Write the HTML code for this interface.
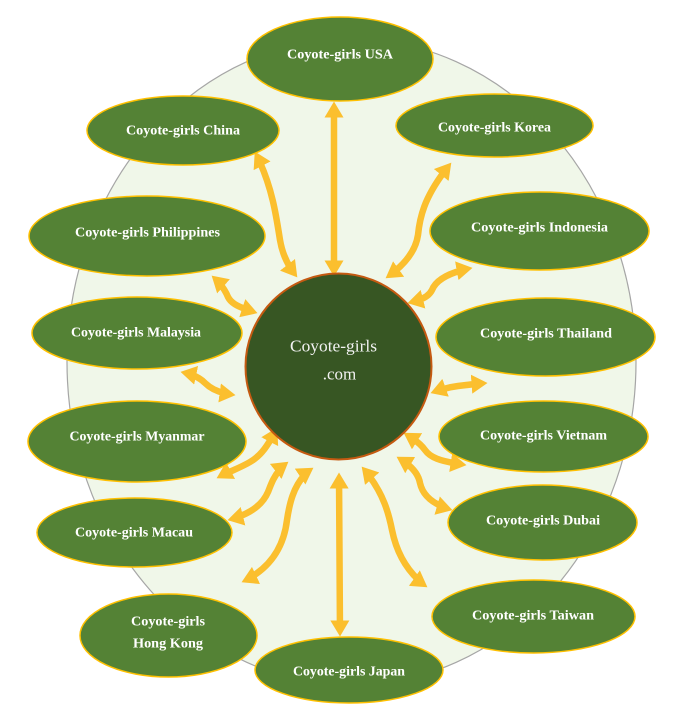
<!DOCTYPE html>
<html>
<head>
<meta charset="utf-8">
<style>
  html, body { margin:0; padding:0; background:#ffffff; }
  body { width:684px; height:726px; overflow:hidden; }
  svg { display:block; }
  .node { fill:#548235; stroke:#ffc000; stroke-width:1.5; }
  .lbl { font-family:"Liberation Serif", serif; font-weight:bold; font-size:14px; fill:#ffffff; text-anchor:middle; dominant-baseline:central; }
  .arr { fill:none; stroke:#fbbf2e; stroke-width:6.5; marker-start:url(#h); marker-end:url(#h); }
</style>
</head>
<body>
<svg width="684" height="726" viewBox="0 0 684 726" xmlns="http://www.w3.org/2000/svg">
  <defs>
    <marker id="h" markerUnits="userSpaceOnUse" markerWidth="16" markerHeight="19" viewBox="0 0 16 19" refX="15.5" refY="9.5" orient="auto-start-reverse">
      <path d="M0,0 L16,9.5 L0,19 Z" fill="#fbbf2e"/>
    </marker>
  </defs>

  <!-- background ellipse -->
  <ellipse cx="351.5" cy="362" rx="284.5" ry="323" fill="#f0f7e9" stroke="#a6a6a6" stroke-width="1.2"/>

  <!-- arrows -->
  <path class="arr" d="M334,102 L334,276"/>
  <path class="arr" d="M255,152 C272,185 276,215 280,240 C283,258 290,268 297,277"/>
  <path class="arr" d="M451,163 C425,195 420,215 418,235 C415,255 400,268 386,278"/>
  <path class="arr" d="M408,303 C420,300 428,298 432,290 C436,280 450,272 472,268"/>
  <path class="arr" d="M212,276 C222,285 225,290 228,297 C232,305 242,308 257,313"/>
  <path class="arr" d="M181,372 C195,375 200,378 205,383 C212,390 220,393 235,395"/>
  <path class="arr" d="M431,393 C445,388 450,387 458,386 C466,385 474,384 487,383"/>
  <path class="arr" d="M404,433 C415,440 420,443 425,450 C432,460 447,462 466,465"/>
  <path class="arr" d="M397,457 C410,465 418,472 420,483 C423,497 435,505 452,510"/>
  <path class="arr" d="M277,428 C268,445 262,455 250,462 C240,468 228,472 217,478"/>
  <path class="arr" d="M288,462 C275,472 272,482 268,492 C262,506 248,515 228,520"/>
  <path class="arr" d="M313,468 C295,480 290,500 287,520 C284,545 272,568 242,582"/>
  <path class="arr" d="M339,473 L340,636"/>
  <path class="arr" d="M362,467 C382,490 388,510 392,530 C397,555 410,575 427,587"/>

  <!-- center circle -->
  <circle cx="338.5" cy="366.5" r="93" fill="#375623" stroke="#c55a11" stroke-width="2"/>
  <text x="333.5" y="346" font-family="Liberation Serif, serif" font-size="17" fill="#f2f2f2" text-anchor="middle" dominant-baseline="central" textLength="87" lengthAdjust="spacingAndGlyphs">Coyote-girls</text>
  <text x="339.5" y="374" font-family="Liberation Serif, serif" font-size="17" fill="#f2f2f2" text-anchor="middle" dominant-baseline="central">.com</text>

  <!-- nodes -->
  <ellipse class="node" cx="340" cy="59" rx="93" ry="42"/>
  <text class="lbl" x="340" y="55" textLength="106" lengthAdjust="spacingAndGlyphs">Coyote-girls USA</text>

  <ellipse class="node" cx="183" cy="130.5" rx="96" ry="34.5"/>
  <text class="lbl" x="183" y="131" textLength="114" lengthAdjust="spacingAndGlyphs">Coyote-girls China</text>

  <ellipse class="node" cx="494.5" cy="125.5" rx="98.5" ry="31.5"/>
  <text class="lbl" x="494.5" y="128" textLength="113" lengthAdjust="spacingAndGlyphs">Coyote-girls Korea</text>

  <ellipse class="node" cx="147" cy="236" rx="118" ry="40"/>
  <text class="lbl" x="147.5" y="233" textLength="145" lengthAdjust="spacingAndGlyphs">Coyote-girls Philippines</text>

  <ellipse class="node" cx="539.5" cy="231" rx="109.5" ry="39"/>
  <text class="lbl" x="539.5" y="228" textLength="137" lengthAdjust="spacingAndGlyphs">Coyote-girls Indonesia</text>

  <ellipse class="node" cx="137" cy="333" rx="105" ry="36"/>
  <text class="lbl" x="136" y="333" textLength="130" lengthAdjust="spacingAndGlyphs">Coyote-girls Malaysia</text>

  <ellipse class="node" cx="545.5" cy="337" rx="109.5" ry="39"/>
  <text class="lbl" x="546" y="334" textLength="132" lengthAdjust="spacingAndGlyphs">Coyote-girls Thailand</text>

  <ellipse class="node" cx="137" cy="441.5" rx="109" ry="40.5"/>
  <text class="lbl" x="137" y="437" textLength="135" lengthAdjust="spacingAndGlyphs">Coyote-girls Myanmar</text>

  <ellipse class="node" cx="543.5" cy="436.5" rx="104.5" ry="35.5"/>
  <text class="lbl" x="543.5" y="436" textLength="127" lengthAdjust="spacingAndGlyphs">Coyote-girls Vietnam</text>

  <ellipse class="node" cx="134.5" cy="532.5" rx="97.5" ry="34.5"/>
  <text class="lbl" x="134" y="533" textLength="118" lengthAdjust="spacingAndGlyphs">Coyote-girls Macau</text>

  <ellipse class="node" cx="542.5" cy="522.5" rx="94.5" ry="37.5"/>
  <text class="lbl" x="543" y="521" textLength="114" lengthAdjust="spacingAndGlyphs">Coyote-girls Dubai</text>

  <ellipse class="node" cx="168.5" cy="635.5" rx="88.5" ry="41.5"/>
  <text class="lbl" x="168" y="622" textLength="74" lengthAdjust="spacingAndGlyphs">Coyote-girls</text>
  <text class="lbl" x="168" y="644" textLength="70" lengthAdjust="spacingAndGlyphs">Hong Kong</text>

  <ellipse class="node" cx="533.5" cy="616.5" rx="101.5" ry="36.5"/>
  <text class="lbl" x="533" y="616" textLength="122" lengthAdjust="spacingAndGlyphs">Coyote-girls Taiwan</text>

  <ellipse class="node" cx="349" cy="670" rx="94" ry="33"/>
  <text class="lbl" x="349" y="672" textLength="112" lengthAdjust="spacingAndGlyphs">Coyote-girls Japan</text>
</svg>
<script>
  // trim shafts so arrow tips stay sharp
  document.querySelectorAll('path.arr').forEach(function(p){
    var L = p.getTotalLength();
    var t = 11;
    p.style.strokeDasharray = '0 ' + t + ' ' + (L - 2*t) + ' ' + (t + 100);
  });
</script>
</body>
</html>
